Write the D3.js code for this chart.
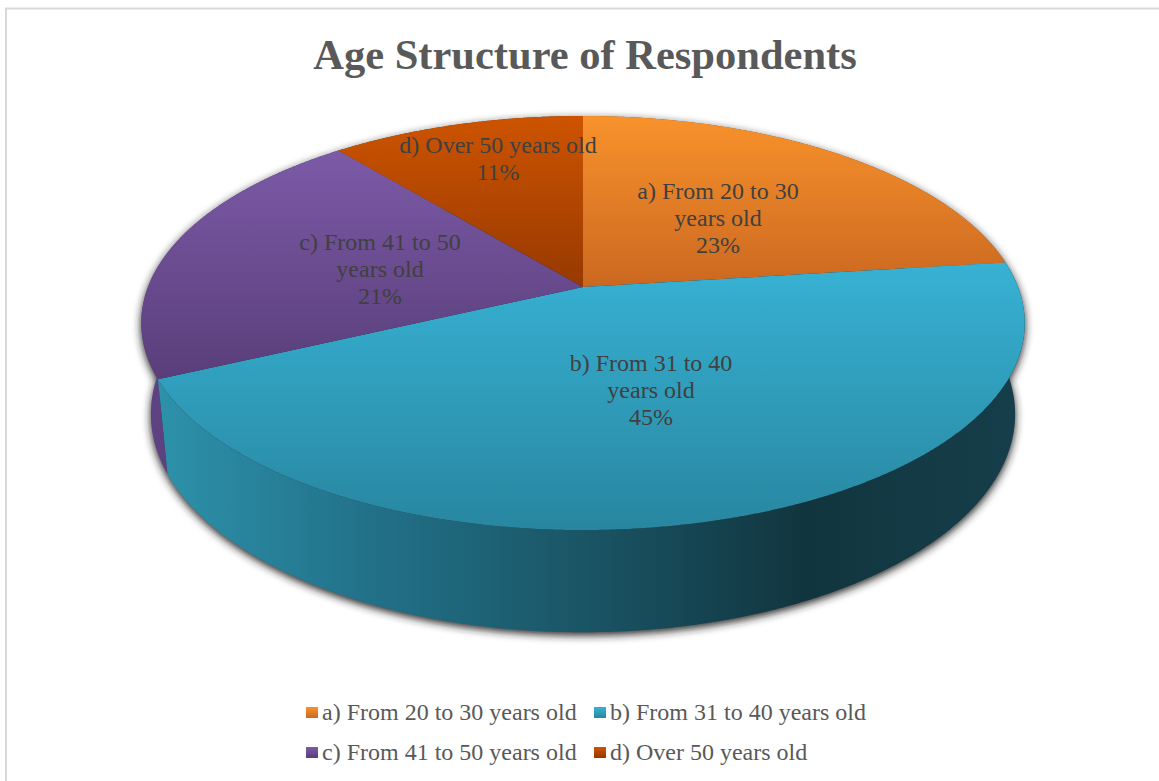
<!DOCTYPE html>
<html>
<head>
<meta charset="utf-8">
<script src="https://cdn.jsdelivr.net/npm/d3@7"></script>
<style>
  html, body { margin: 0; padding: 0; background: #fff; }
  svg { display: block; }
</style>
</head>
<body>
<svg id="chart" width="1159" height="781"></svg>
<script>
// Survey data: age groups of respondents and their shares (%)
const categories = [
  "a) From 20 to 30 years old",
  "b) From 31 to 40 years old",
  "c) From 41 to 50 years old",
  "d) Over 50 years old"
];
const shares = [23, 45, 21, 11];
const chartTitle = "Age Structure of Respondents";

// Styling (kept apart from the data)
const topColors = [
  ["#f8922c", "#cb6820"],
  ["#37b2d4", "#2886a0"],
  ["#7c5aa7", "#593e7a"],
  ["#cd5400", "#973900"]
];
const wallColors = [
  ["#b5561a", "#8a3f12"],
  null,
  ["#5f4383", "#4a3267"],
  ["#8d3500", "#6e2a00"]
];
// label block anchors (centre x, first baseline y)
const labelAnchors = [[718, 199], [651, 371], [380, 250], [498, 153]];
const serif = "'Liberation Serif', 'Times New Roman', 'DejaVu Serif', serif";
const textSize = 24;

const svg = d3.select("#chart");
const defs = svg.append("defs");

// Frame
svg.append("rect")
  .attr("x", 6).attr("y", 8.5).attr("width", 1300).attr("height", 900)
  .attr("fill", "#fff").attr("stroke", "#d9d9d9").attr("stroke-width", 2);

// Title
svg.append("text")
  .attr("x", 585).attr("y", 69)
  .attr("text-anchor", "middle")
  .attr("font-family", serif)
  .attr("font-weight", "bold")
  .attr("font-size", 42.5)
  .attr("fill", "#595959")
  .text(chartTitle);

// ---- 3D perspective pie ----
const cx = 583, cy = 287;              // projected centre of the top face
const sinA = 0.4615, cosA = Math.sqrt(1 - sinA * sinA); // camera elevation
const D = 5.1;                         // camera distance (in radii)
const F = 435 * D;                     // focal length in px
const T = 0.238;                       // pie thickness (in radii)

function project(theta, r, h) {
  const u = r * Math.sin(theta);
  const v = -r * Math.cos(theta);
  const yc = v * sinA - h * cosA;
  const zc = D - v * cosA - h * sinA;
  return [cx + F * u / zc, cy + F * yc / zc];
}
function arcPoints(a0, a1, h) {
  const n = Math.max(2, Math.ceil((a1 - a0) / 0.005));
  return d3.range(n + 1).map(i => project(a0 + (a1 - a0) * i / n, 1, h));
}

const pie = d3.pie().sort(null).value(d => d.value).startAngle(0).endAngle(2 * Math.PI);
const slices = pie(shares.map((v, i) => ({ value: v, i })));
const line = d3.line().curve(d3.curveLinearClosed);

// gradients
slices.forEach((s, i) => {
  const g = defs.append("linearGradient").attr("id", "top" + i)
    .attr("x1", 0).attr("y1", 0).attr("x2", 0).attr("y2", 1);
  g.append("stop").attr("offset", 0).attr("stop-color", topColors[i][0]);
  g.append("stop").attr("offset", 1).attr("stop-color", topColors[i][1]);
  if (wallColors[i]) {
    const w = defs.append("linearGradient").attr("id", "wall" + i)
      .attr("x1", 0).attr("y1", 0).attr("x2", 1).attr("y2", 0);
    w.append("stop").attr("offset", 0).attr("stop-color", wallColors[i][0]);
    w.append("stop").attr("offset", 1).attr("stop-color", wallColors[i][1]);
  }
});
const wb = defs.append("linearGradient").attr("id", "wall1")
  .attr("gradientUnits", "userSpaceOnUse")
  .attr("x1", 141).attr("y1", 0).attr("x2", 1027).attr("y2", 0);
[[0, "#2e94ad"], [0.25, "#22728a"], [0.5, "#1a5565"], [0.75, "#11353f"], [1, "#163f4b"]]
  .forEach(([o, c]) => wb.append("stop").attr("offset", o).attr("stop-color", c));

const blur = defs.append("filter").attr("id", "shadow")
  .attr("x", "-10%").attr("y", "-10%").attr("width", "120%").attr("height", "130%");
blur.append("feGaussianBlur").attr("stdDeviation", 4);

const pieG = svg.append("g");

// soft shadow under the disk
const shadowG = pieG.append("g").attr("filter", "url(#shadow)")
  .attr("transform", "translate(0,3)");
shadowG.append("path").attr("d", line(arcPoints(0, 2 * Math.PI, -T))).attr("fill", "#222");
shadowG.append("path").attr("d", line(arcPoints(0, 2 * Math.PI, 0))).attr("fill", "#222");
[Math.PI / 2, -Math.PI / 2].forEach(a => {
  const top = arcPoints(a - 0.6, a + 0.6, 0), bot = arcPoints(a - 0.6, a + 0.6, -T).reverse();
  shadowG.append("path").attr("d", line(top.concat(bot))).attr("fill", "#222");
});

// outer walls, back ones first
const wallOrder = slices.slice().sort((p, q) =>
  Math.cos((q.startAngle + q.endAngle) / 2) - Math.cos((p.startAngle + p.endAngle) / 2));
pieG.selectAll("path.wall").data(wallOrder).join("path")
  .attr("class", "wall")
  .attr("d", s => line(arcPoints(s.startAngle, s.endAngle, 0)
    .concat(arcPoints(s.startAngle, s.endAngle, -T).reverse())))
  .attr("fill", s => `url(#wall${s.index})`);

// top faces
pieG.selectAll("path.top").data(slices).join("path")
  .attr("class", "top")
  .attr("d", s => line([project(0, 0, 0)].concat(arcPoints(s.startAngle, s.endAngle, 0))))
  .attr("fill", s => `url(#top${s.index})`);

// data labels
const measure = svg.append("text").attr("font-family", serif).attr("font-size", textSize).attr("visibility", "hidden");
function wrap(str, maxW) {
  const words = str.split(" ");
  const lines = [];
  let cur = "";
  words.forEach(w => {
    const trial = cur ? cur + " " + w : w;
    measure.text(trial);
    if (cur && measure.node().getComputedTextLength() > maxW) { lines.push(cur); cur = w; }
    else cur = trial;
  });
  if (cur) lines.push(cur);
  return lines;
}
const total = d3.sum(shares);
slices.forEach((s, i) => {
  const lines = wrap(categories[i], 212).concat([d3.format(".0%")(shares[i] / total)]);
  const [lx, ly] = labelAnchors[i];
  const t = svg.append("text")
    .attr("font-family", serif).attr("font-size", textSize)
    .attr("fill", "#404040").attr("text-anchor", "middle");
  lines.forEach((ln, k) => t.append("tspan").attr("x", lx).attr("y", ly + k * 27).text(ln));
});
measure.remove();

// legend
const legendPos = [[306, 720], [594, 720], [306, 760], [594, 760]];
categories.forEach((c, i) => {
  const [x, y] = legendPos[i];
  svg.append("rect").attr("x", x).attr("y", y - 13).attr("width", 12).attr("height", 11)
    .attr("fill", `url(#top${i})`);
  svg.append("text").attr("x", x + 16).attr("y", y)
    .attr("font-family", serif).attr("font-size", textSize).attr("fill", "#595959")
    .text(c);
});
</script>
</body>
</html>
